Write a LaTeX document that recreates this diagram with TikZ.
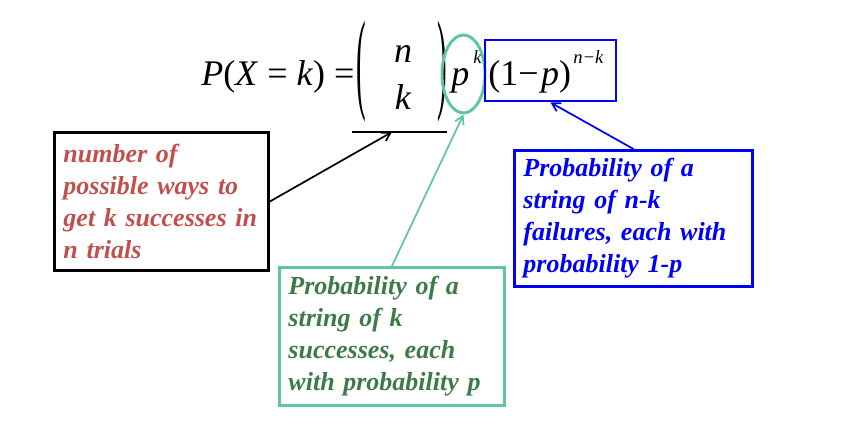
\documentclass[tikz,border=0pt]{standalone}
\usepackage{fontspec}
\setmainfont{Liberation Serif}
\usepackage{graphicx}
\usetikzlibrary{arrows.meta,shapes.geometric}
\definecolor{brick}{RGB}{192,80,77}
\definecolor{leaf}{RGB}{62,122,72}
\definecolor{mint}{RGB}{95,200,155}
\definecolor{deepblue}{RGB}{0,0,245}
\newcommand\notefont{\fontsize{19.5}{24}\selectfont\bfseries\itshape\spaceskip=3.8pt\relax}
\begin{document}
\begin{tikzpicture}[x=0.75pt,y=-0.75pt,
    eq/.style={inner sep=0pt,font=\fontsize{27}{27}\selectfont},
    sup/.style={inner sep=0pt,font=\fontsize{14}{14}\selectfont\itshape},
    note/.style={draw,line width=2.2pt,align=left,inner xsep=6.75pt,inner ysep=0pt,
      minimum height=103.5pt,anchor=north west,font=\notefont},
    pointer/.style={-{Straight Barb[length=6pt,width=7pt]},line width=1.3pt}]
  \useasboundingbox (0,0) rectangle (860,424);
  % the formula
  \node[eq,anchor=base west] (lhs) at (201,86) {\textit{P}(\textit{X} = \textit{k}) =};
  \node[eq] (lpar) at (361,72) {\scalebox{0.8}[3.1]{(}};
  \node[eq] (rpar) at (442,72) {\scalebox{0.8}[3.1]{)}};
  \node[eq,anchor=base] (top) at (403,63) {\textit{n}};
  \node[eq,anchor=base] (bot) at (403,110) {\textit{k}};
  \node[eq,anchor=base west] (p) at (451,86) {\textit{p}};
  \node[sup,anchor=base west] (pexp) at (473,64) {k};
  \node[eq,anchor=base west] (q) at (488,86) {(1−\kern2pt\textit{p})};
  \node[sup,anchor=base west] (qexp) at (573,64) {n−k};
  % marks on the formula
  \draw[line width=2.2pt] (352,132) coordinate (ul) -- (447,132) coordinate (ur);
  \coordinate (choose) at (392,132);
  \node[ellipse,draw=mint,line width=2.2pt,minimum width=32.25pt,minimum height=58.5pt] (ring) at (463.5,74) {};
  \node[draw=deepblue,line width=2.2pt,minimum width=98.25pt,minimum height=45.75pt] (fail) at (550.5,70.5) {};
  % the notes
  \node[note,text width=147pt,text=brick] (ways) at (53,131)
    {number of\\possible ways to\\get k successes in\\n trials};
  \node[note,draw=mint,text width=155.25pt,text=leaf] (succ) at (278,266)
    {Probability of a\\string of k\\successes, each\\with probability p};
  \node[note,draw=deepblue,text width=165pt,text=deepblue,minimum height=102pt] (fails) at (513,149)
    {Probability of a\\string of n-k\\failures, each with\\probability 1-p};
  % pointers
  \draw[pointer] (ways.east) -- (choose);
  \draw[pointer,mint] (succ.north) -- (ring.south);
  \draw[pointer,deepblue] (fails.north) -- (fail.south);
\end{tikzpicture}
\end{document}
